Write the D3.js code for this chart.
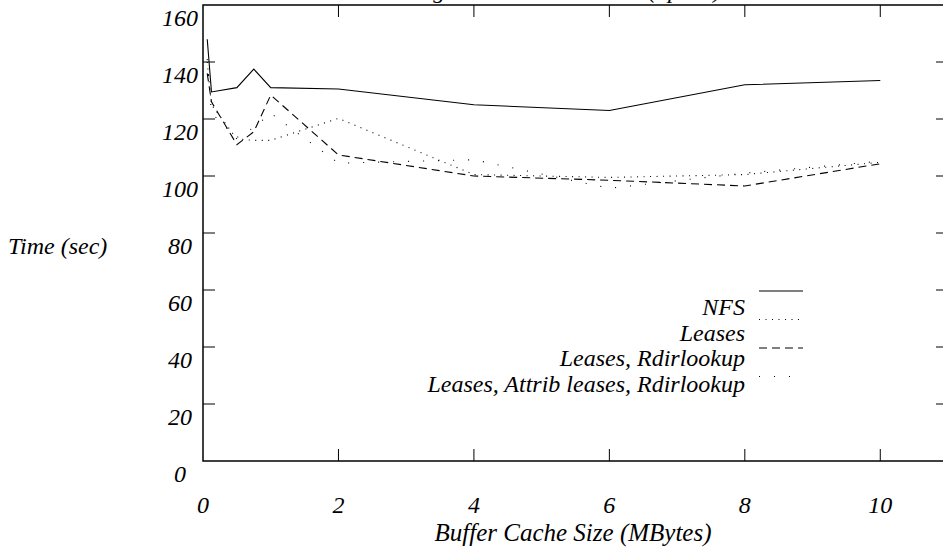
<!DOCTYPE html>
<html>
<head>
<meta charset="utf-8">
<script src="https://d3js.org/d3.v7.min.js"></script>
<style>
    body { margin: 0; background: white; }
    svg text { font-family: "Liberation Serif", "Times New Roman", serif; font-style: italic; fill: black; font-size: 24px; }
</style>
</head>
<body>
<div id="chart-area"></div>
<script>
// buffer cache sizes (MBytes)
let cacheSizes = [0.0625, 0.125, 0.5, 0.75, 1, 2, 4, 6, 8, 10];

// elapsed times (sec)
let nfsTimes = [148, 129.5, 131, 137.5, 131, 130.5, 125, 123, 132, 133.5];
let leasesTimes = [140, 125, 113, 112.5, 112.5, 120.2, 100.5, 99.5, 100.5, 104.8];
let rdirTimes = [136, 126, 111, 115.5, 128.4, 107.4, 100, 98.5, 96.5, 104.3];
let attribTimes = [141, 122, 113.5, 117, 122, 104.5, 105.7, 95.7, 101, 105.2];

let seriesNames = ["NFS", "Leases", "Leases, Rdirlookup", "Leases, Attrib leases, Rdirlookup"];
let seriesDash = [null, "1,5.5", "8,5", "1,14"];

let xTicks = [0, 2, 4, 6, 8, 10];
let yTicks = [0, 20, 40, 60, 80, 100, 120, 140, 160];

let width = 943, height = 548;

let svg = d3.select("#chart-area").append("svg")
    .attr("width", width)
    .attr("height", height);

let x = d3.scaleLinear().domain([0, 11]).range([203, 948]);
let y = d3.scaleLinear().domain([0, 160]).range([461, 5]);

// title, mostly cut off by the top edge (only descenders show)
svg.append("text")
    .attr("x", 364)
    .attr("y", -2)
    .text("Running Time vs. Cache Size  (Sprite)");

// frame
svg.append("rect")
    .attr("x", x(0))
    .attr("y", y(160))
    .attr("width", x(11) - x(0))
    .attr("height", y(0) - y(160))
    .attr("fill", "none")
    .attr("stroke", "black")
    .attr("stroke-width", 1.5);

// inward ticks on all four sides
let tickLen = 12;
let innerX = xTicks.filter(d => d > 0);
let innerY = yTicks.filter(d => d > 0 && d < 160);

svg.selectAll(".xtick-bottom")
    .data(innerX)
    .enter().append("line")
    .attr("x1", d => x(d)).attr("x2", d => x(d))
    .attr("y1", y(0)).attr("y2", y(0) - tickLen)
    .attr("stroke", "black");

svg.selectAll(".xtick-top")
    .data(innerX)
    .enter().append("line")
    .attr("x1", d => x(d)).attr("x2", d => x(d))
    .attr("y1", y(160)).attr("y2", y(160) + tickLen)
    .attr("stroke", "black");

svg.selectAll(".ytick-left")
    .data(innerY)
    .enter().append("line")
    .attr("x1", x(0)).attr("x2", x(0) + tickLen)
    .attr("y1", d => y(d)).attr("y2", d => y(d))
    .attr("stroke", "black");

svg.selectAll(".ytick-right")
    .data(innerY)
    .enter().append("line")
    .attr("x1", x(11)).attr("x2", x(11) - tickLen)
    .attr("y1", d => y(d)).attr("y2", d => y(d))
    .attr("stroke", "black");

// tick labels
svg.selectAll(".xlabel")
    .data(xTicks)
    .enter().append("text")
    .attr("x", d => x(d))
    .attr("y", 513)
    .attr("text-anchor", "middle")
    .text(d => d);

svg.selectAll(".ylabel")
    .data(yTicks)
    .enter().append("text")
    .attr("x", 180)
    .attr("y", d => y(d) + 21)
    .attr("text-anchor", "middle")
    .text(d => d);

// axis titles
svg.append("text")
    .attr("x", 573)
    .attr("y", 541)
    .attr("text-anchor", "middle")
    .style("font-size", "25px")
    .text("Buffer Cache Size (MBytes)");

svg.append("text")
    .attr("x", 8)
    .attr("y", y(80) + 21)
    .text("Time (sec)");

// the four series
let allTimes = [nfsTimes, leasesTimes, rdirTimes, attribTimes];
let series = seriesNames.map((name, i) => ({
    name: name,
    dash: seriesDash[i],
    values: cacheSizes.map((c, j) => ({ size: c, time: allTimes[i][j] }))
}));

let line = d3.line()
    .x(d => x(d.size))
    .y(d => y(d.time));

svg.selectAll(".series")
    .data(series)
    .enter().append("path")
    .attr("class", "series")
    .attr("d", d => line(d.values))
    .attr("fill", "none")
    .attr("stroke", "black")
    .attr("stroke-width", 1.1)
    .attr("stroke-dasharray", d => d.dash);

// legend: label on the left, line sample to the right and a bit above
let legend = svg.selectAll(".legend")
    .data(series)
    .enter().append("g")
    .attr("class", "legend");

legend.append("text")
    .attr("x", 745)
    .attr("y", (d, i) => 315 + i * 25.5)
    .attr("text-anchor", "end")
    .text(d => d.name);

legend.append("line")
    .attr("x1", 759).attr("x2", 803)
    .attr("y1", (d, i) => 291 + i * 28.5)
    .attr("y2", (d, i) => 291 + i * 28.5)
    .attr("stroke", "black")
    .attr("stroke-width", 1.1)
    .attr("stroke-dasharray", d => d.dash);
</script>
</body>
</html>
